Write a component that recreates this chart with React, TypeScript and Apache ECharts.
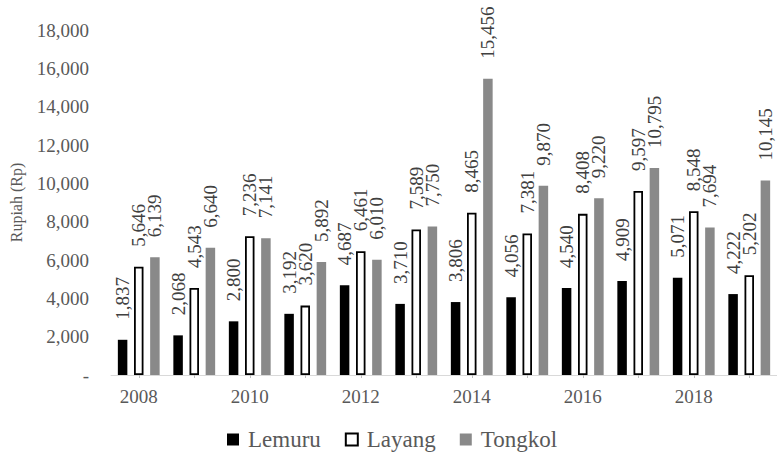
import React, { useEffect, useRef } from "react";
import * as echarts from "echarts";

const years = ["2008", "2009", "2010", "2011", "2012", "2013", "2014", "2015", "2016", "2017", "2018", "2019"];
const lemuru = [1837, 2068, 2800, 3192, 4687, 3710, 3806, 4056, 4540, 4909, 5071, 4222];
const layang = [5646, 4543, 7236, 3620, 6461, 7589, 8465, 7381, 8408, 9597, 8548, 5202];
const tongkol = [6139, 6640, 7141, 5892, 6010, 7750, 15456, 9870, 9220, 10795, 7694, 10145];

const FONT = "Liberation Serif";
const TEXT = "#595959";

const fmt = (v: number) => (v === 0 ? "-" : v.toLocaleString("en-US"));

const barLabel = {
  show: true,
  position: "top" as const,
  rotate: 90,
  align: "left" as const,
  verticalAlign: "middle" as const,
  distance: 20,
  fontFamily: FONT,
  fontSize: 19,
  color: "#404040",
  formatter: (p: any) => fmt(p.value),
};

export default function App() {
  const ref = useRef<HTMLDivElement>(null);

  useEffect(() => {
    if (!ref.current) return;
    const chart = echarts.init(ref.current, null, { renderer: "svg" });
    chart.setOption({
      animation: false,
      backgroundColor: "#ffffff",
      textStyle: { fontFamily: FONT },
      grid: { left: 111, top: 30, width: 667, height: 345, containLabel: false },
      legend: {
        top: 423,
        left: 222,
        itemWidth: 12,
        itemHeight: 12,
        itemGap: 24,
        icon: "rect",
        textStyle: { fontFamily: FONT, fontSize: 23, color: TEXT, padding: [0, 0, 0, 4] },
        data: ["Lemuru", "Layang", "Tongkol"],
      },
      xAxis: {
        type: "category",
        data: years,
        axisLine: { lineStyle: { color: "#d9d9d9", width: 1 } },
        axisTick: { show: true, alignWithLabel: true, interval: 0, length: 3, lineStyle: { color: "#bfbfbf" } },
        axisLabel: { interval: 1, fontFamily: FONT, fontSize: 19, color: TEXT, margin: 12 },
      },
      yAxis: {
        type: "value",
        min: 0,
        max: 18000,
        interval: 2000,
        name: "Rupiah (Rp)",
        nameLocation: "middle",
        nameGap: 87,
        nameTextStyle: { fontFamily: FONT, fontSize: 16, color: TEXT },
        axisLine: { show: false },
        axisTick: { show: false },
        splitLine: { show: false },
        axisLabel: { fontFamily: FONT, fontSize: 19, color: TEXT, margin: 22, formatter: fmt },
      },
      series: [
        {
          name: "Lemuru",
          type: "bar",
          data: lemuru,
          barWidth: 9.5,
          barGap: "70%",
          itemStyle: { color: "#000000" },
          label: barLabel,
        },
        {
          name: "Layang",
          type: "bar",
          data: layang,
          barWidth: 9.5,
          barGap: "70%",
          itemStyle: { color: "#ffffff", borderColor: "#000000", borderWidth: 1.8 },
          label: barLabel,
        },
        {
          name: "Tongkol",
          type: "bar",
          data: tongkol,
          barWidth: 9.5,
          barGap: "70%",
          itemStyle: { color: "#898989" },
          label: barLabel,
        },
      ],
    });
    return () => chart.dispose();
  }, []);

  return (
    <div
      ref={ref}
      style={{ position: "fixed", left: 0, top: 0, width: 777, height: 461 }}
    />
  );
}
